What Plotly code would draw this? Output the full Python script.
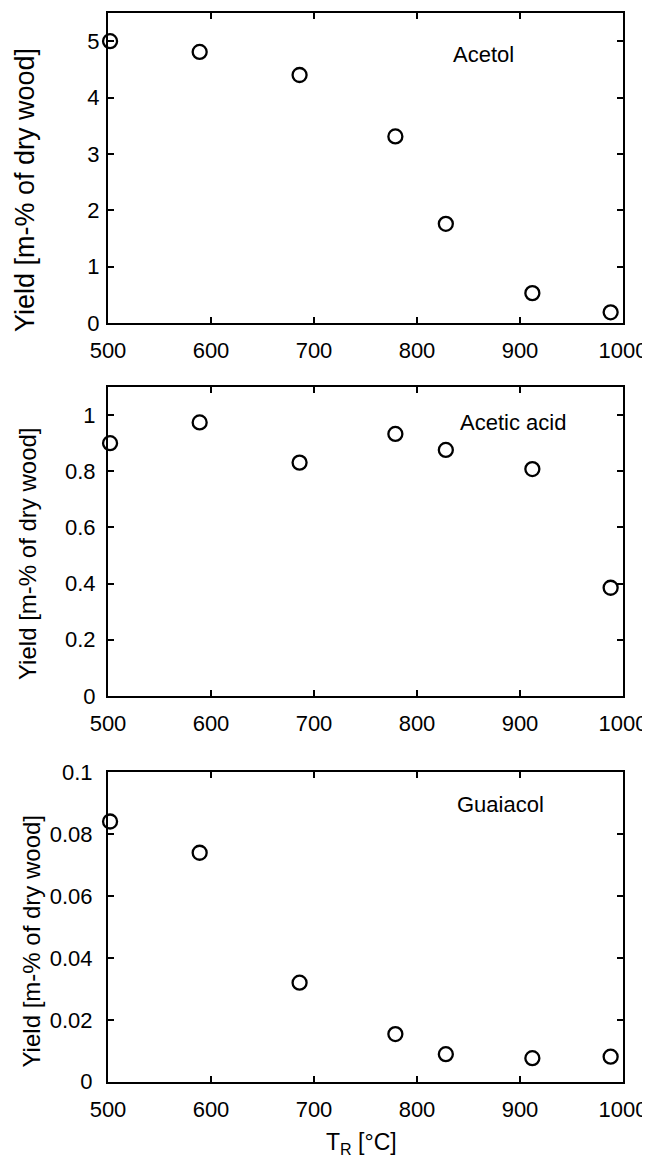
import plotly.graph_objects as go

# Data
temperature = [502, 589, 686, 779, 828, 912, 988]
acetol = [5.00, 4.81, 4.40, 3.31, 1.76, 0.53, 0.19]
acetic_acid = [0.899, 0.973, 0.830, 0.932, 0.875, 0.807, 0.385]
guaiacol = [0.0841, 0.0740, 0.0320, 0.0154, 0.0089, 0.0076, 0.0081]

panel_names = ["Acetol", "Acetic acid", "Guaiacol"]
x_ticks = [500, 600, 700, 800, 900, 1000]
y_ranges = [[0, 5.5], [0, 1.1], [0, 0.1]]
y_dticks = [1, 0.2, 0.02]
label_pos = [(865, 4.76), (893, 0.972), (880.6, 0.0895)]
y_title = "Yield [m-% of dry wood]"
x_title = "T<sub>R</sub> [°C]"

# The page body has an 8px default margin, so the figure is drawn 8px in
# from the top-left corner; size it so the page is exactly 650 x 1159.
OFF = 8
W, H = 650 - OFF, 1159 - OFF
FONT = "Liberation Sans, Arial, Helvetica, sans-serif"


def px_x(x):
    return (x - OFF) / W


def px_y(y):
    return 1 - (y - OFF) / H


x_dom = [px_x(108), px_x(623)]
y_doms_px = [(13, 323), (386.7, 696), (772.3, 1081.7)]
y_doms = [[px_y(b), px_y(t)] for t, b in y_doms_px]
y_standoffs = [2, 6, 9]

fig = go.Figure()
series = [acetol, acetic_acid, guaiacol]
for i, ys in enumerate(series):
    sfx = "" if i == 0 else str(i + 1)
    fig.add_trace(go.Scatter(
        x=temperature, y=ys, mode="markers",
        marker=dict(symbol="circle-open", size=14, color="black",
                    line=dict(width=2.3, color="black")),
        xaxis="x" + sfx, yaxis="y" + sfx, cliponaxis=False,
        showlegend=False))

axis_common = dict(showline=True, linecolor="black", linewidth=2,
                   mirror="ticks", ticks="inside", ticklen=6, tickwidth=2,
                   tickcolor="black", showgrid=False, zeroline=False,
                   automargin=False,
                   tickfont=dict(family=FONT, size=22, color="black"))

layout = dict(width=W, height=H, margin=dict(l=0, r=0, t=0, b=0, pad=0),
              paper_bgcolor="white", plot_bgcolor="white",
              font=dict(family=FONT, color="black"), annotations=[])

for i in range(3):
    sfx = "" if i == 0 else str(i + 1)
    layout["xaxis" + sfx] = dict(
        domain=x_dom, range=[500, 1000], tickvals=x_ticks,
        anchor="y" + sfx, ticklabelstandoff=7, **axis_common)
    layout["yaxis" + sfx] = dict(
        domain=y_doms[i], range=y_ranges[i], dtick=y_dticks[i], tick0=0,
        anchor="x" + sfx, ticklabelstandoff=y_standoffs[i], **axis_common)
    lx, ly = label_pos[i]
    layout["annotations"].append(dict(
        x=lx, y=ly, xref="x" + sfx, yref="y" + sfx, text=panel_names[i],
        showarrow=False, font=dict(family=FONT, size=22, color="black"),
        xanchor="center", yanchor="middle"))

title_centers = [(25, 190, 27), (27, 554, 24), (31, 941.5, 24)]
for cx, cy, fs in title_centers:
    layout["annotations"].append(dict(
        x=px_x(cx), y=px_y(cy), xref="paper", yref="paper", text=y_title,
        textangle=-90, showarrow=False,
        font=dict(family=FONT, size=fs, color="black"),
        xanchor="center", yanchor="middle"))

layout["annotations"].append(dict(
    x=px_x(362), y=px_y(1143), xref="paper", yref="paper", text=x_title,
    showarrow=False, font=dict(family=FONT, size=23, color="black"),
    xanchor="center", yanchor="middle"))

fig.update_layout(**layout)
fig.write_html("out.html")
